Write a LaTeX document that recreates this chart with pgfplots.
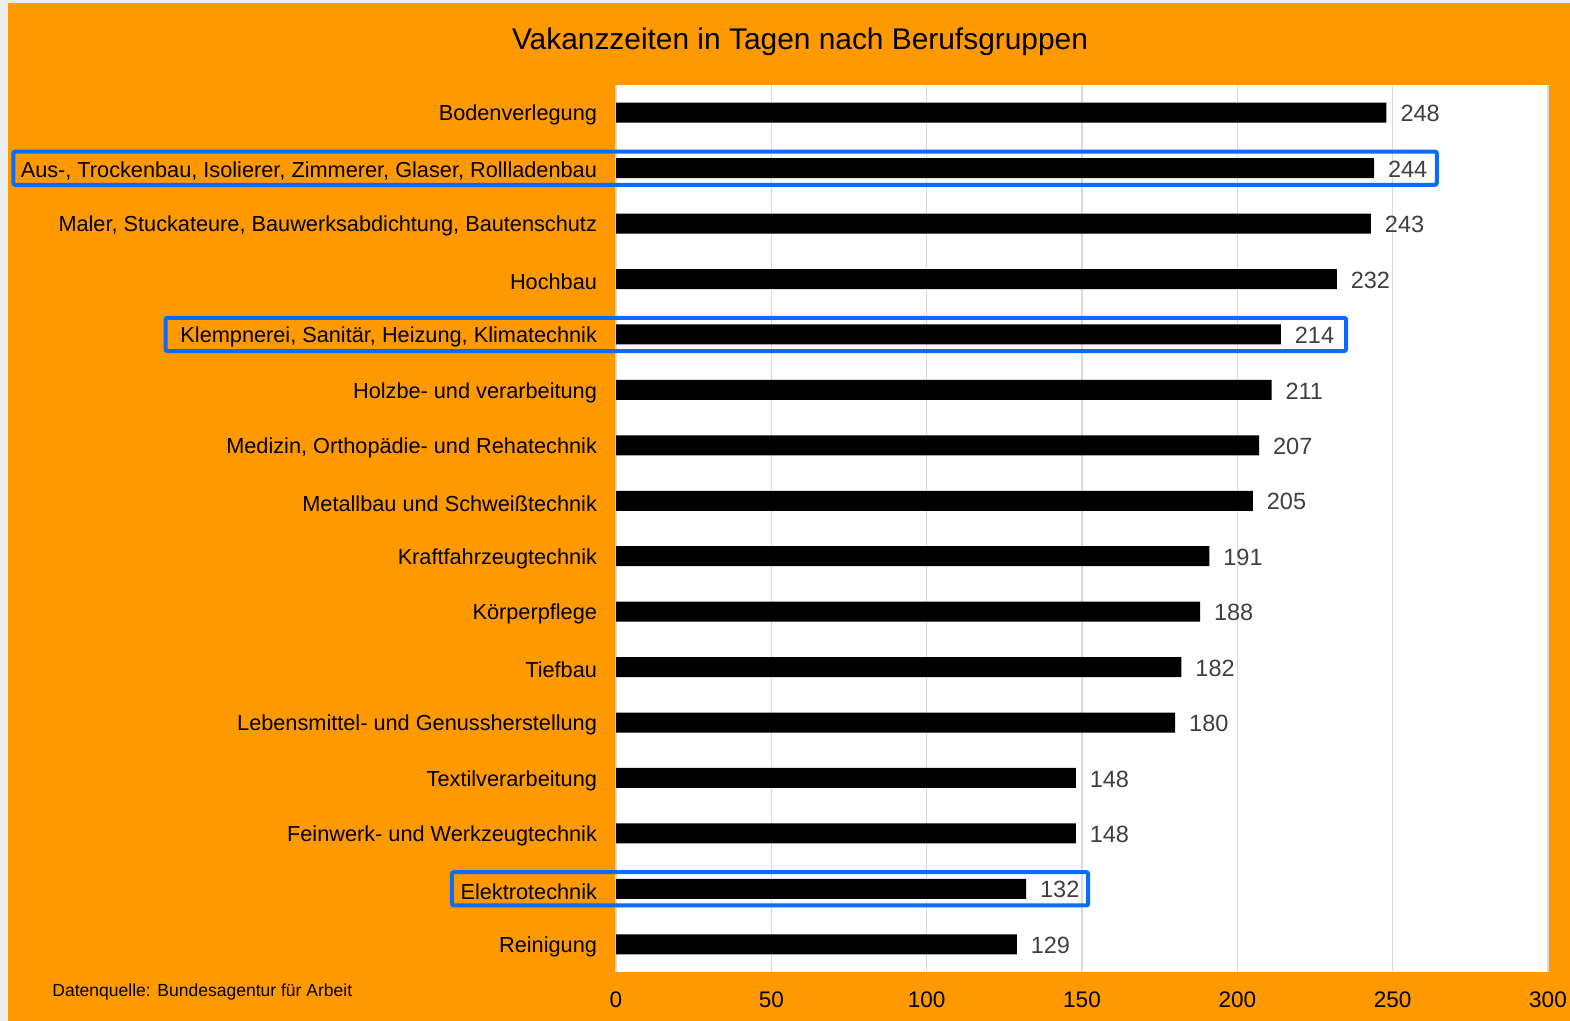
\documentclass[border=0pt]{standalone}
\usepackage{pgfplots}
\pgfplotsset{compat=1.18}
\usepackage{fontspec}
\setmainfont{Liberation Sans}
\definecolor{bgorange}{HTML}{FF9900}
\definecolor{boxblue}{HTML}{0A6BFF}
\definecolor{gridgray}{HTML}{D9D9D9}
\definecolor{lblgray}{HTML}{404040}
\begin{document}
\begin{tikzpicture}
\path[use as bounding box] (0,0) rectangle (785bp,510.5bp);
\fill[black!7] (0,0) rectangle (785bp,510.5bp);
\fill[bgorange] (4bp,0) rectangle (785bp,509bp);
\node[font=\fontsize{15}{17}\selectfont] at (400bp,489.5bp) {Vakanzzeiten in Tagen nach Berufsgruppen};
\node[font=\fontsize{8.8}{10}\selectfont, anchor=west, inner sep=0] at (26bp,14.5bp) {Datenquelle: Bundesagentur für Arbeit};
\begin{axis}[
  at={(308bp,24.5bp)}, anchor=south west,
  scale only axis, width=466bp, height=443.5bp,
  clip=false,
  xmin=0, xmax=300, ymin=-0.5, ymax=15.5,
  y dir=reverse,
  xbar, bar width=10bp,
  axis background/.style={fill=white},
  axis line style={draw=none},
  major tick length=0pt,
  xtick={0,50,100,150,200,250,300},
  xmajorgrids, grid style={gridgray, line width=0.8bp},
  ytick={0,...,15},
  yticklabels={Bodenverlegung,
    {Aus-, Trockenbau, Isolierer, Zimmerer, Glaser, Rollladenbau},
    {Maler, Stuckateure, Bauwerksabdichtung, Bautenschutz},
    Hochbau,
    {Klempnerei, Sanitär, Heizung, Klimatechnik},
    Holzbe- und verarbeitung,
    {Medizin, Orthopädie- und Rehatechnik},
    Metallbau und Schweißtechnik,
    Kraftfahrzeugtechnik,
    Körperpflege,
    Tiefbau,
    Lebensmittel- und Genussherstellung,
    Textilverarbeitung,
    Feinwerk- und Werkzeugtechnik,
    Elektrotechnik,
    Reinigung},
  /pgf/number format/assume math mode=true,
  tick label style={font=\fontsize{10.9}{13}\selectfont, text=black},
  yticklabel style={xshift=-6bp, yshift=-1.3bp},
  xticklabel style={yshift=-6.5bp, font=\fontsize{11.3}{13}\selectfont},
  nodes near coords,
  every node near coord/.append style={anchor=west, xshift=3.5bp, yshift=-0.5bp, text=lblgray, font=\fontsize{11.8}{13}\selectfont},
]
\addplot[fill=black, draw=none] coordinates {
(248,0) (244,1) (243,2) (232,3) (214,4) (211,5) (207,6) (205,7)
(191,8) (188,9) (182,10) (180,11) (148,12) (148,13) (132,14) (129,15)};
\draw[boxblue, line width=2bp, rounded corners=1bp] (axis cs:-194,0.7) rectangle (axis cs:264.2,1.3);
\draw[boxblue, line width=2bp, rounded corners=1bp] (axis cs:-145,3.7) rectangle (axis cs:235,4.3);
\draw[boxblue, line width=2bp, rounded corners=1bp] (axis cs:-52.8,13.7) rectangle (axis cs:152,14.3);
\end{axis}
\end{tikzpicture}
\end{document}
